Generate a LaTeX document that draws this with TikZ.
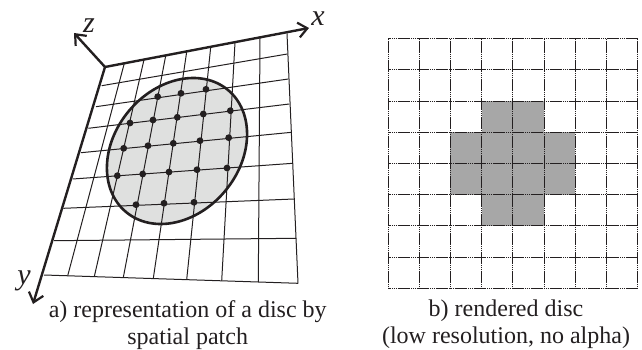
\documentclass[tikz,border=0pt]{standalone}
\usepackage{fontspec}
\setmainfont{Liberation Serif}
\usetikzlibrary{arrows.meta}
\definecolor{ink}{HTML}{231F20}
\definecolor{discfill}{HTML}{DFE0DF}
\definecolor{cellfill}{HTML}{A7A7A7}
\tikzset{
  gridline/.style={draw=ink,line width=1pt},
  axisline/.style={draw=ink,line width=2.4pt,-{Straight Barb[length=9pt,width=15pt,line width=2.2pt]}},
  discline/.style={draw=ink,fill=discfill,line width=2.6pt},
  sample/.style={circle,fill=ink,inner sep=0pt,minimum size=6.8pt},
  caption/.style={font=\fontsize{24}{28}\selectfont,text=ink,inner sep=0pt,anchor=center},
  axislabel/.style={font=\fontsize{30}{34}\selectfont\itshape,text=ink,inner sep=0pt,anchor=center},
  cell/.style={fill=cellfill,draw=none},
  rasterline/.style={draw=ink,line width=1pt,dash pattern=on 1.5pt off 0.4pt},
}
\begin{document}
\begin{tikzpicture}[x=1pt,y=-1pt]
\useasboundingbox (0,0) rectangle (642,350);
% disc
\fill[discfill,rotate around={50:(177,151)}] (177,151) ellipse [x radius=79.5pt,y radius=62.6pt];
% grid: columns
\foreach \a/\b/\c/\d in {124.3/63.4/67.7/275.7,144/59.7/94.3/276.6,165.7/55.7/123.3/277.5,186.7/51.7/153.3/278.4,210.7/47.2/186.7/279.5,235/42.7/221.7/280.6,260/38/258.3/281.8,287/33.5/298/283.3}
  \draw[gridline] (\a,\b) -- (\c,\d);
% grid: rows
\foreach \a/\b/\c/\d in {101.7/85.7/287.3/54,96/106.7/288.3/79,88.3/128.3/289.3/104,81/152.7/291.7/132.3,72.7/179/293/163.3,63.3/208.3/294/199,54/240.7/296/238.3,44/275/298/283.3}
  \draw[gridline] (\a,\b) -- (\c,\d);
% disc outline
\draw[discline,fill=none,rotate around={50:(177,151)}] (177,151) ellipse [x radius=79.5pt,y radius=62.6pt];
% sample points
\foreach \u/\v [count=\i] in {157.7/96.7,181/93.3,206/89.3,130/123,153/120,177.3/117.3,203.3/114,230.3/110.7,123.7/148.3,148/145.7,173.3/143.3,200/140.7,228.7/137.7,117.3/175.7,142.7/174,169/172,197/169.7,227/168,136/204.7,164/203.3,194/202.3}
  \node[sample] (s\i) at (\u,\v) {};
% axes
\coordinate (o) at (105,67);
\coordinate (tipx) at (309,28);
\coordinate (tipy) at (33,304);
\coordinate (tipz) at (74,33);
\draw[axisline] (o) -- (tipx);
\draw[axisline] (o) -- (tipy);
\draw[axisline] (o) -- (tipz);
\node[axislabel] (lx) at (318,19) {x};
\node[axislabel] (ly) at (24,281) {y};
\node[axislabel] (lz) at (89,26) {z};
% raster
\foreach \c/\r in {3/2,4/2,2/3,3/3,4/3,5/3,2/4,3/4,4/4,5/4,3/5,4/5}
  \fill[cell] ({388+31.2*\c},{38.7+31.2*\r}) rectangle ++(31.2,31.2);
\foreach \i in {0,...,8} {
  \draw[rasterline] ({388+31.2*\i},38.7) -- ({388+31.2*\i},288.3);
  \draw[rasterline] (388,{38.7+31.2*\i}) -- (637.6,{38.7+31.2*\i});
}
% captions
\node[caption] (ca1) at (187.7,312) {a) representation of a disc by};
\node[caption] (ca2) at (187.7,339) {spatial patch};
\node[caption] (cb1) at (506,311) {b) rendered disc};
\node[caption] (cb2) at (506,338) {(low resolution, no alpha)};
\end{tikzpicture}
\end{document}
